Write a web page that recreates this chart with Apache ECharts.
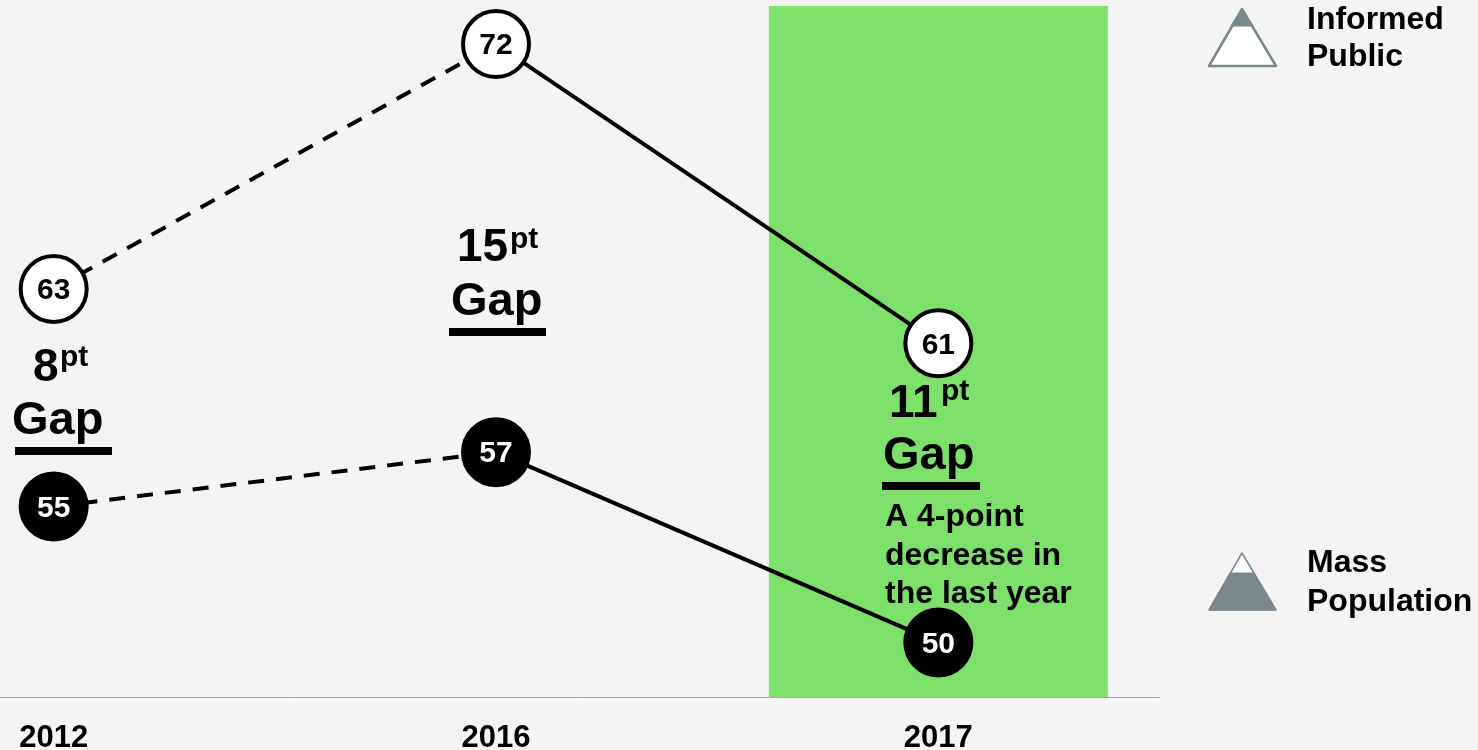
<!DOCTYPE html>
<html>
<head>
<meta charset="utf-8">
<style>html,body{margin:0;padding:0;background:#f4f4f4}#c{width:1478px;height:750px}</style>
<script src="https://cdn.jsdelivr.net/npm/echarts@6/dist/echarts.min.js"></script>
</head>
<body>
<div id="c"></div>
<script>
const years = ['2012', '2016', '2017'];
const informedValues = [63, 72, 61];
const massValues = [55, 57, 50];
const informedDashed = [63, 72, null];
const informedSolid = [null, 72, 61];
const massDashed = [55, 57, null];
const massSolid = [null, 57, 50];
const highlightBand = [null, null, 73.4];

const FONT = '"Liberation Sans", Arial, sans-serif';
const GREY = '#7a878c';

function text(t, x, y, size, fill) {
  return { type: 'text', z: 20, style: { text: t, x: x, y: y, fill: fill || '#000', font: 'bold ' + size + 'px ' + FONT, textAlign: 'left', textVerticalAlign: 'bottom' } };
}
function tb(t, x, base, size) { return text(t, x, base + Math.round(size * 0.21), size); }
function bar(x, y, w, h) { return { type: 'rect', z: 20, shape: { x: x, y: y, width: w, height: h }, style: { fill: '#000' } }; }
function poly(points, fill, stroke, lw) {
  return { type: 'polygon', z: 20, shape: { points: points }, style: { fill: fill, stroke: stroke, lineWidth: lw, lineJoin: 'round' } };
}

function lineSeries(name, data, dashed) {
  return {
    type: 'line', name: name, data: data, showSymbol: false, symbol: 'none', connectNulls: false, z: 3, silent: true,
    lineStyle: { color: '#000', width: 4, type: dashed ? [16, 12] : 'solid', cap: 'butt' }
  };
}
function dotSeries(name, data, fill, stroke, labelColor) {
  return {
    type: 'scatter', name: name, data: data, symbol: 'circle', symbolSize: 66, z: 5, clip: false,
    itemStyle: { color: fill, borderColor: stroke, borderWidth: 4, opacity: 1 },
    label: { show: true, position: 'inside', offset: [0, 2], color: labelColor, fontFamily: FONT, fontWeight: 'bold', fontSize: 30, formatter: p => p.value }
  };
}

const chart = echarts.init(document.getElementById('c'), null, { renderer: 'canvas' });
chart.setOption({
  animation: false,
  backgroundColor: '#f4f4f4',
  grid: { left: -167.5, width: 1327, top: 0, height: 697, containLabel: false, outerBoundsMode: 'none' },
  xAxis: {
    type: 'category', data: years, boundaryGap: true,
    axisLine: { show: true, lineStyle: { color: '#a6a6a6', width: 1 } },
    axisTick: { show: false },
    axisLabel: { color: '#000', fontFamily: FONT, fontWeight: 'bold', fontSize: 31, margin: 26 }
  },
  yAxis: { type: 'value', min: 48, max: 73.62, show: false, splitLine: { show: false } },
  series: [
    { type: 'bar', name: 'Highlight', data: highlightBand, barWidth: 339, z: 1, silent: true, itemStyle: { color: '#7ce06b' } },
    lineSeries('Informed Public 2012-2016', informedDashed, true),
    lineSeries('Informed Public 2016-2017', informedSolid, false),
    lineSeries('Mass Population 2012-2016', massDashed, true),
    lineSeries('Mass Population 2016-2017', massSolid, false),
    dotSeries('Informed Public', informedValues, '#fff', '#000', '#000'),
    dotSeries('Mass Population', massValues, '#000', '#000', '#fff')
  ],
  graphic: [
    tb('8', 33, 381, 46), tb('pt', 60, 367, 30), tb('Gap', 12, 435, 47), bar(15, 447, 97, 8),
    tb('15', 457, 261, 46), tb('pt', 510, 249, 30), tb('Gap', 451, 316, 47), bar(449, 328, 97, 8),
    tb('11', 889, 417, 46), tb('pt', 941, 401, 30), tb('Gap', 883, 470, 47), bar(882, 482, 98, 8),
    tb('A 4-point', 885, 526, 32), tb('decrease in', 885, 565, 32), tb('the last year', 885, 603, 32),
    tb('Informed', 1307, 29, 32), tb('Public', 1307, 66, 32),
    tb('Mass', 1307, 572, 32), tb('Population', 1307, 611, 32),
    poly([[1242, 9], [1276, 66], [1209, 66]], '#fff', GREY, 2.5),
    poly([[1242, 9], [1253, 26], [1231, 26]], GREY, GREY, 1),
    poly([[1242, 553], [1276, 610], [1209, 610]], '#fff', GREY, 1.5),
    poly([[1230, 573], [1254, 573], [1276, 610], [1209, 610]], GREY, GREY, 1)
  ]
});
</script>
</body>
</html>
